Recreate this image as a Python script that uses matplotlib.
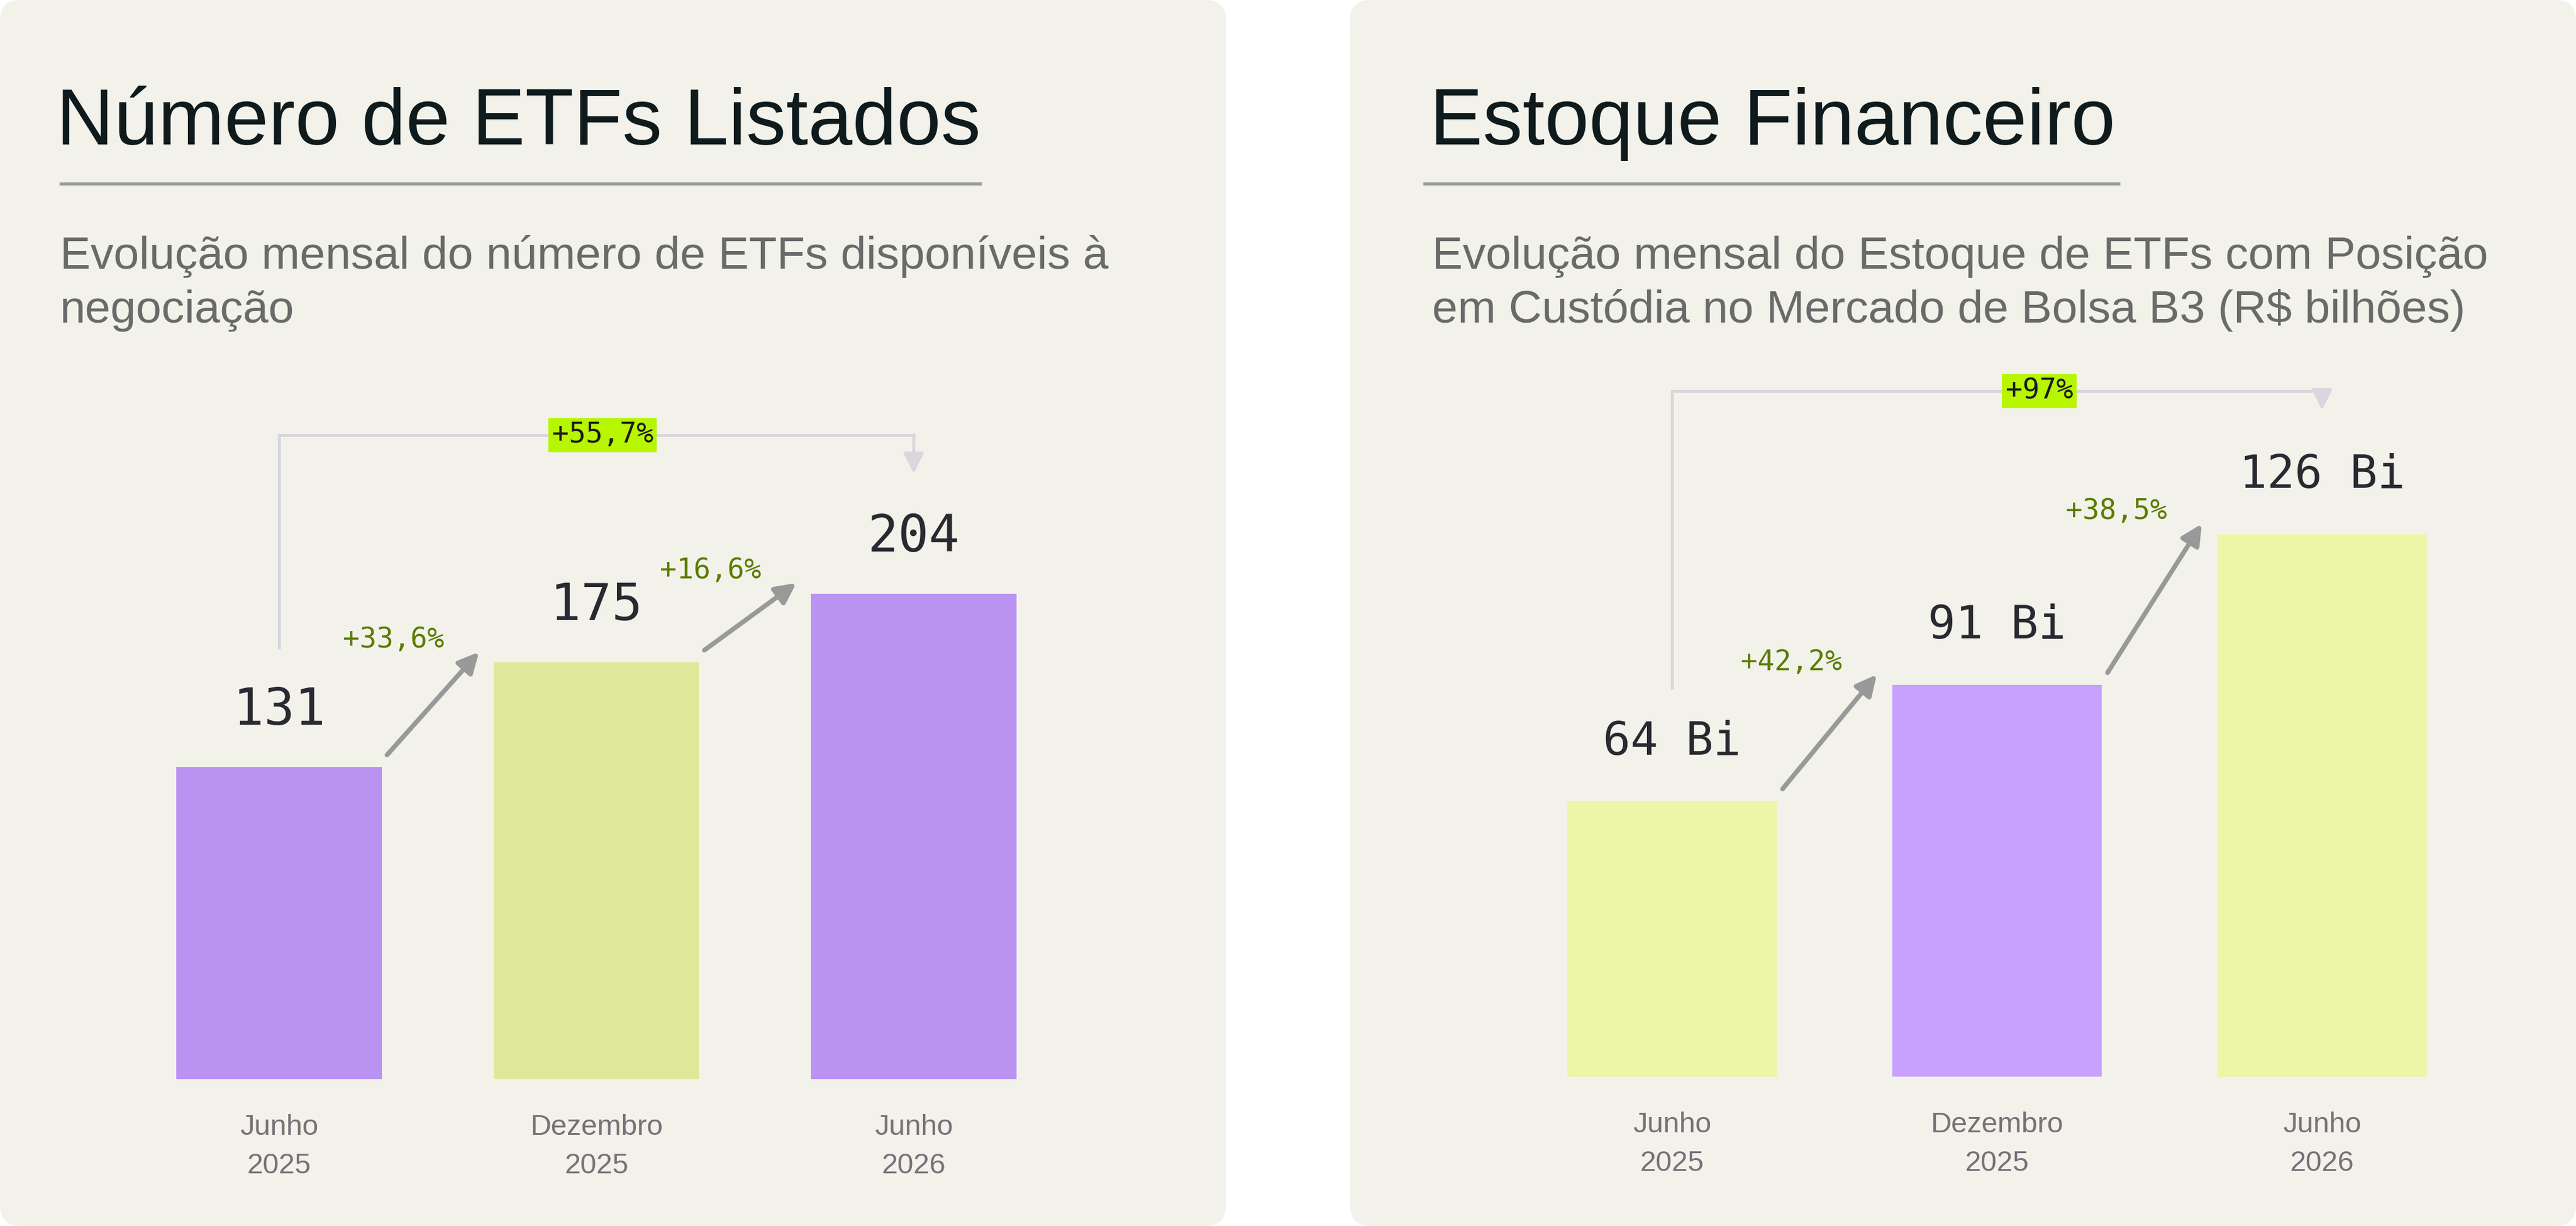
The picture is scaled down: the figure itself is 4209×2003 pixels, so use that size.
import matplotlib
matplotlib.use("Agg")
import matplotlib.pyplot as plt
import matplotlib.transforms as mtransforms
from matplotlib.patches import FancyBboxPatch
from matplotlib.lines import Line2D

# ---------------- data ----------------
periods = ["Junho\n2025", "Dezembro\n2025", "Junho\n2026"]

etf_counts = [131, 175, 204]
etf_step_growth = ["+33,6%", "+16,6%"]
etf_total_growth = "+55,7%"

stock_bi = [64, 91, 126]
stock_step_growth = ["+42,2%", "+38,5%"]
stock_total_growth = "+97%"

titles = ["Número de ETFs Listados", "Estoque Financeiro"]
subtitles = [
    ["Evolução mensal do número de ETFs disponíveis à", "negociação"],
    ["Evolução mensal do Estoque de ETFs com Posição",
     "em Custódia no Mercado de Bolsa B3 (R$ bilhões)"],
]

# ---------------- style ----------------
W, H, DPI = 4209, 2003, 100
PANEL = "#f2f2ea"
PURPLE_L, GREEN_L = "#ba93f2", "#dee89b"
PURPLE_R, GREEN_R = "#c8a0fe", "#ebf6a6"
TITLE_C = "#0e1a1c"
SUB_C = "#6a6a6a"
TICK_C = "#76727a"
NUM_C = "#2a2830"
PCT_C = "#5b7c00"
ARROW_C = "#999999"
BRACKET_C = "#d9d7dd"
BOX_C = "#b8f500"
SANS = ["Liberation Sans", "DejaVu Sans"]
MONO = ["DejaVu Sans Mono"]
PT = 72.0 / DPI  # points per pixel

fig = plt.figure(figsize=(W / DPI, H / DPI), dpi=DPI, facecolor="white")
# pixel transform, origin top-left
px = mtransforms.Affine2D().scale(1.0 / W, -1.0 / H).translate(0, 1) + fig.transFigure

panels = [
    dict(x0=0, values=etf_counts, steps=etf_step_growth, total=etf_total_growth,
         fmt=lambda v: f"{v}", colors=[PURPLE_L, GREEN_L, PURPLE_L],
         title_x=92, sub_x=98, underline=(97, 1604),
         ax_px=(196.75, 600, 1752.25, 1763), ylim=299.0, bar_w=0.648,
         num_size=60, num_gap=69, bracket=(195, 259, 196), box_x=1.02),
    dict(x0=2206, values=stock_bi, steps=stock_step_growth, total=stock_total_growth,
         fmt=lambda v: f"{v} Bi", colors=[GREEN_R, PURPLE_R, GREEN_R],
         title_x=2336, sub_x=2340, underline=(2325, 3464),
         ax_px=(2466.5, 560, 4059.5, 1759), ylim=170.5, bar_w=0.644,
         num_size=54, num_gap=76, bracket=(185, 234, 203), box_x=1.13),
]

for k, p in enumerate(panels):
    # panel background
    fig.add_artist(FancyBboxPatch((p["x0"], 0), 2003, 2003,
                                  boxstyle="round,pad=0,rounding_size=33",
                                  transform=px, facecolor=PANEL, edgecolor="none",
                                  zorder=-10))
    # title + underline
    fig.text(p["title_x"], 236, titles[k], transform=px, fontsize=130 * PT,
             family=SANS, color=TITLE_C, ha="left", va="baseline")
    fig.add_artist(Line2D(list(p["underline"]), [300, 300], transform=px,
                          lw=5 * PT, color="#9a9a9a", solid_capstyle="butt"))
    # subtitle
    for j, line in enumerate(subtitles[k]):
        fig.text(p["sub_x"], 439 + j * 88, line, transform=px, fontsize=75 * PT,
                 family=SANS, color=SUB_C, ha="left", va="baseline")

    # axes
    l, t, r, b = p["ax_px"]
    ax = fig.add_axes([l / W, 1 - b / H, (r - l) / W, (b - t) / H])
    ax.set_facecolor("none")
    for s in ax.spines.values():
        s.set_visible(False)
    ax.set_xlim(-0.5, 2.5)
    ax.set_ylim(0, p["ylim"])
    ax.set_yticks([])
    ax.set_xticks(range(len(periods)))
    ax.set_xticklabels(periods, fontsize=47 * PT, color=TICK_C, family=SANS,
                       linespacing=1.55)
    ax.tick_params(axis="x", length=0, pad=57 * PT)

    ppu = (b - t) / p["ylim"]  # pixels per data unit
    d = lambda pxv: pxv / ppu
    vals = p["values"]
    xs = list(range(len(vals)))

    ax.bar(xs, vals, width=p["bar_w"], color=p["colors"], zorder=2)

    # value labels
    for x, v in zip(xs, vals):
        ax.annotate(p["fmt"](v), xy=(x, v), xytext=(0, p["num_gap"] * PT),
                    textcoords="offset points", ha="center", va="baseline",
                    fontsize=p["num_size"], family=MONO, color=NUM_C)

    # step growth arrows
    for i, lab in enumerate(p["steps"]):
        start = (i + 0.34, vals[i] + d(20))
        end = (i + 0.63, vals[i + 1] + d(17))
        ax.annotate("", xy=end, xytext=start,
                    arrowprops=dict(arrowstyle="-|>,head_length=1.0,head_width=0.5",
                                    mutation_scale=20, color=ARROW_C, lw=5.5,
                                    shrinkA=0, shrinkB=0))
        ax.annotate(lab, xy=end, xytext=(-57 * PT, 20 * PT),
                    textcoords="offset points", ha="right", va="center",
                    fontsize=33, family=MONO, color=PCT_C)

    # total growth bracket
    s_off, top_off, tip_off = p["bracket"]
    y_start = vals[0] + d(s_off)
    y_top = vals[-1] + d(top_off)
    y_tip = vals[-1] + d(tip_off)
    ax.plot([xs[0], xs[0], xs[-1]], [y_start, y_top, y_top], color=BRACKET_C,
            lw=5 * PT, solid_joinstyle="miter", solid_capstyle="projecting",
            clip_on=False, zorder=1)
    ax.annotate("", xy=(xs[-1], y_tip), xytext=(xs[-1], y_top),
                arrowprops=dict(arrowstyle="-|>,head_length=1.0,head_width=0.5",
                                mutation_scale=20, color=BRACKET_C, lw=5 * PT,
                                shrinkA=0, shrinkB=0))
    ax.text(p["box_x"], y_top, p["total"], ha="center", va="center", fontsize=33,
            family=MONO, color="#1c1c1c", zorder=3,
            bbox=dict(boxstyle="square,pad=0.12", facecolor=BOX_C, edgecolor="none"))

fig.savefig("out.png", dpi=DPI, facecolor="white")
